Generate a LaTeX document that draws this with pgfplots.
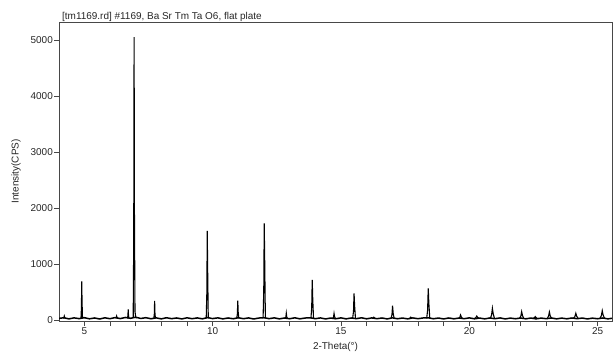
\documentclass[border=0pt]{standalone}
\usepackage{pgfplots}
\pgfplotsset{compat=1.18}
\usepackage{fontspec}
\setmainfont{Liberation Sans}
\begin{document}
\begin{tikzpicture}
\begin{axis}[
  at={(59bp,32bp)}, anchor=south west,
  scale only axis, width=553bp, height=299bp,
  xmin=4.014, xmax=25.56, ymin=-18, ymax=5321,
  xtick={5,10,15,20,25}, minor xtick={4,6,7,8,9,11,12,13,14,16,17,18,19,21,22,23,24},
  ytick={0,1000,2000,3000,4000,5000},
  tick align=outside, major tick length=5bp, minor tick length=5bp,
  xtick pos=bottom, ytick pos=left,
  axis line style={draw=black!72, line width=0.8bp},
  every tick/.style={draw=black!72, line width=0.7bp},
  /pgf/number format/assume math mode=true,
  /pgf/number format/1000 sep={},
  tick label style={font=\fontsize{10}{12}\selectfont, text=black!85},
  yticklabel style={inner xsep=1bp},
  xticklabel style={inner ysep=1.5bp},
  label style={font=\fontsize{10}{12}\selectfont, text=black!85},
  xlabel={2-Theta(°)},
  xlabel style={at={(axis description cs:0.5,-0.087)}, anchor=center},
  ylabel={Intensity(CPS)},
  ylabel style={at={(axis description cs:-0.0777,0.5)}, anchor=center, rotate=0},
  unbounded coords=jump,
  clip=true,
]
% noisy background
\addplot[black, line width=1.5bp] coordinates {
(4.0,28)(4.2,40)(4.4,20)(4.6,38)(4.8,24)(5.0,41)(5.2,21)(5.4,36)(5.6,18)(5.8,39)
(6.0,23)(6.2,43)(6.4,25)(6.6,45)(6.8,30)(7.0,50)(7.2,27)(7.4,41)(7.6,22)(7.8,38)
(8.0,20)(8.2,40)(8.4,24)(8.6,36)(8.8,19)(9.0,39)(9.2,23)(9.4,37)(9.6,21)(9.8,43)
(10.0,25)(10.2,38)(10.4,20)(10.6,36)(10.8,22)(11.0,40)(11.2,23)(11.4,37)(11.6,18)(11.8,35)
(12.0,41)(12.2,24)(12.4,38)(12.6,20)(12.8,36)(13.0,22)(13.2,39)(13.4,21)(13.6,35)(13.8,40)
(14.0,23)(14.2,37)(14.4,19)(14.6,35)(14.8,22)(15.0,38)(15.2,20)(15.4,36)(15.6,24)(15.8,39)
(16.0,21)(16.2,37)(16.4,23)(16.6,36)(16.8,19)(17.0,38)(17.2,22)(17.4,35)(17.6,20)(17.8,37)
(18.0,23)(18.2,36)(18.4,40)(18.6,22)(18.8,35)(19.0,19)(19.2,36)(19.4,21)(19.6,35)(19.8,23)
(20.0,38)(20.2,21)(20.4,35)(20.6,20)(20.8,36)(21.0,23)(21.2,37)(21.4,19)(21.6,34)(21.8,22)
(22.0,36)(22.2,21)(22.4,35)(22.6,20)(22.8,34)(23.0,23)(23.2,36)(23.4,20)(23.6,34)(23.8,21)
(24.0,36)(24.2,23)(24.4,35)(24.6,19)(24.8,33)(25.0,22)(25.2,36)(25.4,20)(25.6,33)
};
% diffraction peaks
\addplot[black, line width=1.1bp] coordinates {
(4.18,30)(4.204,45)(4.22,70)(4.236,45)(4.26,30)(4.27,nan)
(4.87,30)(4.888,210)(4.90,690)(4.912,330)(4.93,30)(4.94,nan)
(6.22,30)(6.244,45)(6.26,70)(6.276,45)(6.30,30)(6.31,nan)
(6.68,30)(6.698,70)(6.71,190)(6.722,80)(6.74,30)(6.75,nan)
(6.905,40)(6.926,1500)(6.94,5050)(6.954,1800)(6.975,150)(7.00,60)(7.03,30)(7.04,nan)
(7.71,30)(7.728,110)(7.74,340)(7.752,130)(7.77,30)(7.78,nan)
(9.75,30)(9.774,480)(9.79,1590)(9.806,900)(9.83,30)(9.84,nan)
(10.94,30)(10.964,110)(10.98,345)(10.996,140)(11.02,30)(11.03,nan)
(11.965,30)(11.992,520)(12.01,1726)(12.028,1080)(12.055,30)(12.06,nan)
(12.83,30)(12.854,55)(12.87,120)(12.886,60)(12.91,30)(12.92,nan)
(13.83,30)(13.86,220)(13.88,714)(13.90,380)(13.93,30)(13.94,nan)
(14.68,30)(14.71,50)(14.73,115)(14.75,60)(14.78,30)(14.79,nan)
(15.455,30)(15.488,150)(15.51,476)(15.532,250)(15.565,30)(15.57,nan)
(16.23,30)(16.26,38)(16.28,50)(16.30,40)(16.33,30)(16.34,nan)
(16.95,30)(16.986,90)(17.01,256)(17.034,120)(17.07,30)(17.08,nan)
(17.67,30)(17.70,38)(17.72,50)(17.74,40)(17.77,30)(17.78,nan)
(18.34,30)(18.376,180)(18.40,566)(18.424,300)(18.46,30)(18.47,nan)
(19.59,30)(19.632,50)(19.66,90)(19.688,55)(19.73,30)(19.74,nan)
(20.21,30)(20.258,45)(20.29,70)(20.322,48)(20.37,30)(20.38,nan)
(20.82,30)(20.868,90)(20.90,209)(20.932,110)(20.98,30)(20.99,nan)
(21.96,30)(22.008,70)(22.04,149)(22.072,80)(22.12,30)(22.13,nan)
(22.49,30)(22.538,40)(22.57,60)(22.602,42)(22.65,30)(22.66,nan)
(23.04,30)(23.088,68)(23.12,143)(23.152,75)(23.20,30)(23.21,nan)
(24.06,30)(24.114,60)(24.15,120)(24.186,65)(24.24,30)(24.25,nan)
(25.09,30)(25.144,75)(25.18,166)(25.216,85)(25.27,30)
};
\end{axis}
\node[anchor=base west, font=\fontsize{10}{12}\selectfont, text=black!85, inner sep=0pt]
  at (62bp,333.5bp) {[tm1169.rd] \#1169, Ba Sr Tm Ta O6, flat plate};
\pgfresetboundingbox
\path (0,0) rectangle (613bp,353bp);
\end{tikzpicture}
\end{document}
